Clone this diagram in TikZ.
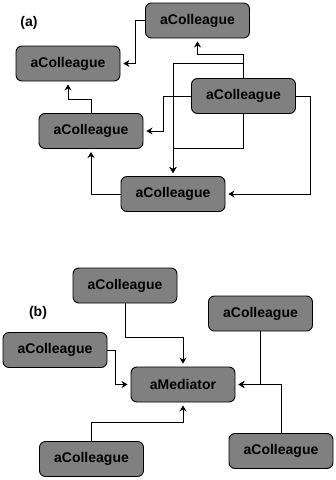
\documentclass[tikz,border=0pt]{standalone}
\usepackage{fontspec}
\setsansfont{Liberation Sans}
\usepackage{xcolor}
\usepackage{tikz}
\usetikzlibrary{arrows.meta,positioning}
\definecolor{boxgray}{HTML}{808080}
\tikzset{
  box/.style={draw=black,fill=boxgray,rounded corners=6pt,line width=0.9pt,minimum width=104pt,minimum height=35pt,inner sep=0pt,font=\sffamily\bfseries\fontsize{14}{16}\selectfont},
  arr/.style={-{Stealth[length=6pt,width=7pt]},line width=0.8pt,shorten >=3pt},
  lbl/.style={font=\sffamily\bfseries\fontsize{14}{16}\selectfont},
}
\begin{document}
\begin{tikzpicture}[x=1pt,y=-1pt]
\useasboundingbox (0,0) rectangle (336,480);
% (a) colleagues wired to each other
\node[lbl] (la) at (29,23) {(a)};
\node[box] (a1) at (197.5,20.5) {aColleague};
\node[box] (a2) at (68,63.5) {aColleague};
\node[box] (a3) at (243.5,96) {aColleague};
\node[box] (a4) at (91,131) {aColleague};
\node[box] (a5) at (173,194) {aColleague};
\draw[arr](a1.west) -- ++(-10,0) |- (a2.east);\draw[arr](a4.north) -- ++(0,-14) -| (a2.south);\draw[arr](a5.west) -| (a4.south);
\draw[arr](a3.west) -- ++(-28,0) |- (a4.east);\draw[arr](a3.east) -- ++(14,0) |- (a5.east);
\draw[arr](a3.north) -- ++(0,-24) coordinate (j1) -| (a1.south);\draw[arr](j1) -- ++(0,9) -| (a5.north);\draw[arr](a3.south) -- ++(0,34) -| (a5.north);
% (b) colleagues through a mediator
\node[lbl] (lb) at (38,313) {(b)};
\node[box] (b1) at (125,285.5) {aColleague};
\node[box] (b2) at (260.5,313.5) {aColleague};
\node[box] (b3) at (55,350) {aColleague};
\node[box] (med) at (183,384.5) {aMediator};
\node[box] (b4) at (91.5,459) {aColleague};
\node[box] (b5) at (281,451) {aColleague};
\draw[arr](b1.south) -- ++(0,34) -| (med.north);\draw[arr](b3.east) -- ++(8,0) |- (med.west);\draw[arr](b4.north) -- ++(0,-19) -| (med.south);
\draw[arr](b2.south) |- (med.east);\draw[arr](b5.north) |- (med.east);
\end{tikzpicture}
\end{document}
